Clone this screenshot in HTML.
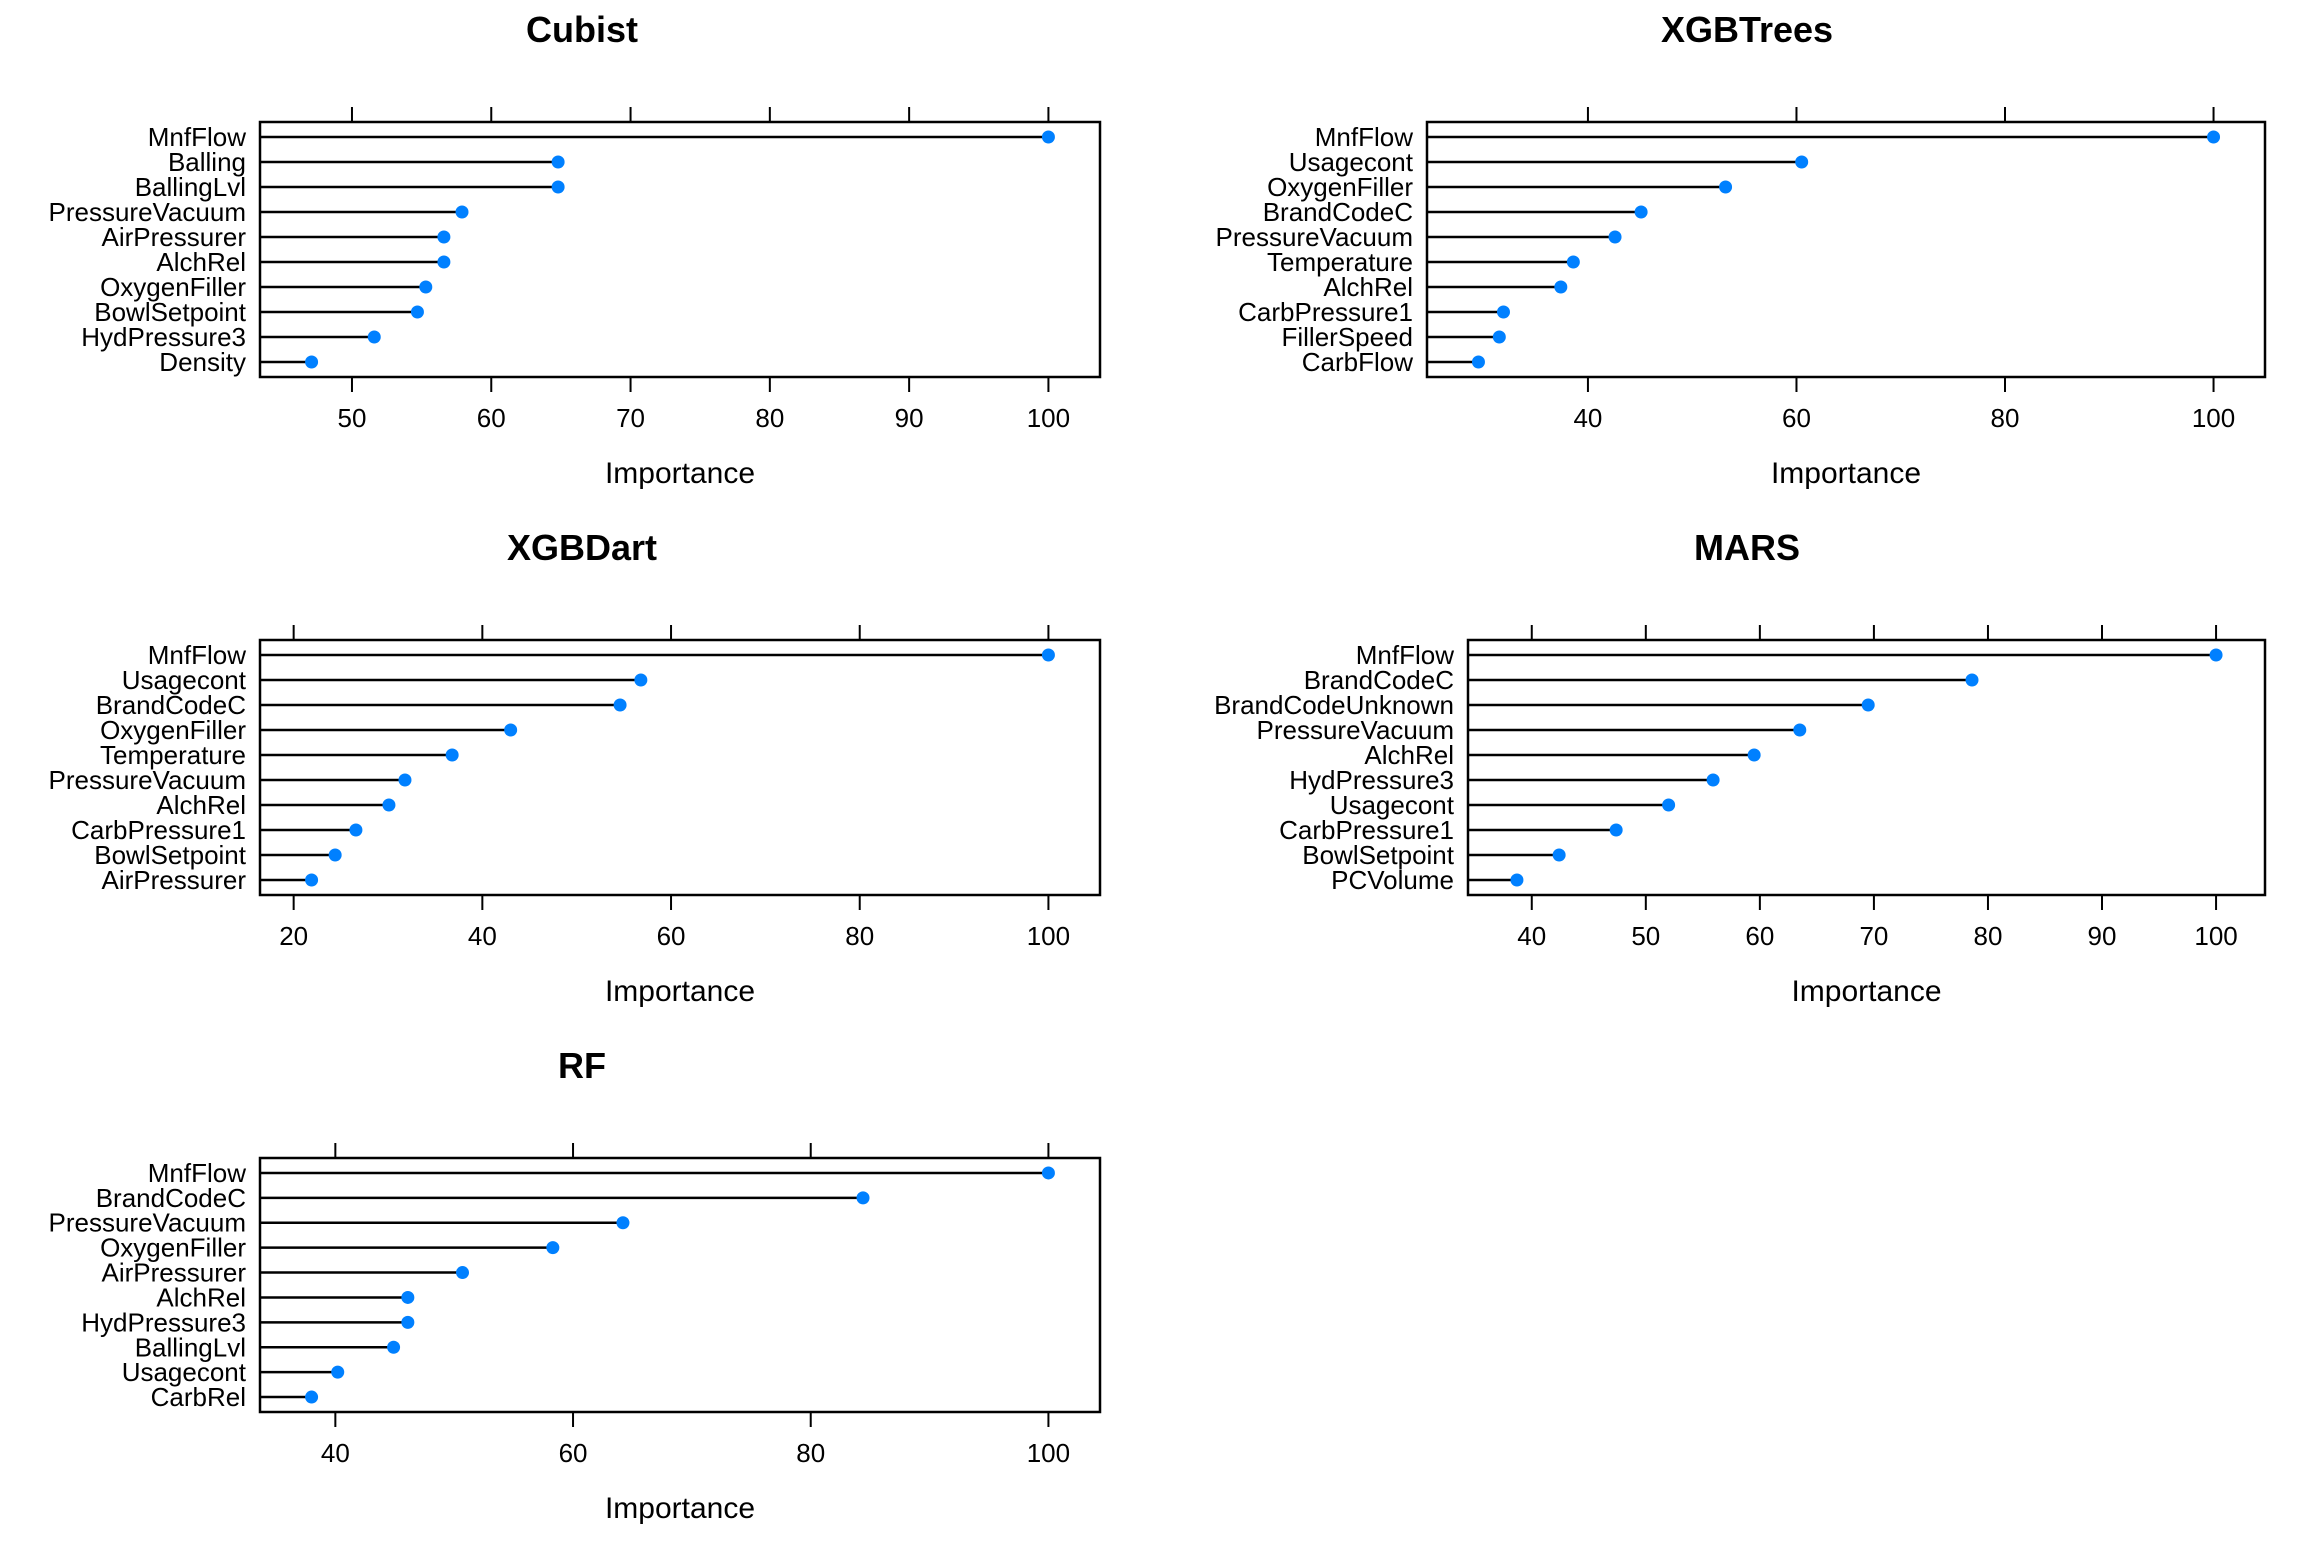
<!DOCTYPE html>
<html><head><meta charset="utf-8"><style>
html,body{margin:0;padding:0;background:#fff}
svg text{font-family:"Liberation Sans",Arial,sans-serif}
</style></head><body>
<svg id="chart" width="2304" height="1536" viewBox="0 0 2304 1536" xmlns="http://www.w3.org/2000/svg"></svg>
<script>
const cubistLabels=["MnfFlow","Balling","BallingLvl","PressureVacuum","AirPressurer","AlchRel","OxygenFiller","BowlSetpoint","HydPressure3","Density"];
const cubistValues=[100,64.8,64.8,57.9,56.6,56.6,55.3,54.7,51.6,47.1];
const cubistTicks=[50,60,70,80,90,100];
const xgbtLabels=["MnfFlow","Usagecont","OxygenFiller","BrandCodeC","PressureVacuum","Temperature","AlchRel","CarbPressure1","FillerSpeed","CarbFlow"];
const xgbtValues=[100,60.5,53.2,45.1,42.6,38.6,37.4,31.9,31.5,29.5];
const xgbtTicks=[40,60,80,100];
const xgbdLabels=["MnfFlow","Usagecont","BrandCodeC","OxygenFiller","Temperature","PressureVacuum","AlchRel","CarbPressure1","BowlSetpoint","AirPressurer"];
const xgbdValues=[100,56.8,54.6,43.0,36.8,31.8,30.1,26.6,24.4,21.9];
const xgbdTicks=[20,40,60,80,100];
const marsLabels=["MnfFlow","BrandCodeC","BrandCodeUnknown","PressureVacuum","AlchRel","HydPressure3","Usagecont","CarbPressure1","BowlSetpoint","PCVolume"];
const marsValues=[100,78.6,69.5,63.5,59.5,55.9,52.0,47.4,42.4,38.7];
const marsTicks=[40,50,60,70,80,90,100];
const rfLabels=["MnfFlow","BrandCodeC","PressureVacuum","OxygenFiller","AirPressurer","AlchRel","HydPressure3","BallingLvl","Usagecont","CarbRel"];
const rfValues=[100,84.4,64.2,58.3,50.7,46.1,46.1,44.9,40.2,38.0];
const rfTicks=[40,60,80,100];

const NS="http://www.w3.org/2000/svg";
const svg=document.getElementById('chart');
function mk(tag,attrs,parent){const e=document.createElementNS(NS,tag);for(const k in attrs)e.setAttribute(k,attrs[k]);parent.appendChild(e);return e;}

function panel(key,title,labels,values,ticks,x0,x1,y0,y1,titleX){
  const g=mk('g',{},svg);
  
  
  const mn=Math.min(...values),mx=Math.max(...values),pad=(mx-mn)*0.07;
  const d0=mn-pad,d1=mx+pad;
  const sx=v=>x0+(v-d0)/(d1-d0)*(x1-x0);
  const n=labels.length;
  const sy=i=>y0+(i+0.6)/(n+0.2)*(y1-y0);
  const t=mk('text',{x:titleX,y:y0-80,'text-anchor':'middle','font-size':36,'font-weight':'bold'},g);
  t.textContent=title;
  
  
  labels.forEach((lab,i)=>{
    const y=sy(i);
    const l=mk('line',{x1:x0,x2:sx(values[i]),y1:y,y2:y,stroke:'#000','stroke-width':2.5},g);
    
    
    const c=mk('circle',{cx:sx(values[i]),cy:y,r:6.5,fill:'#0080ff'},g);
    
    
    const tx=mk('text',{x:x0-14,y:y+9,'text-anchor':'end','font-size':26},g);
    tx.textContent=lab;
    
    
  });
  ticks.forEach(v=>{
    const x=sx(v);
    const a=mk('line',{x1:x,x2:x,y1:y0-15,y2:y0,stroke:'#000','stroke-width':2},g);
    
    
    const b=mk('line',{x1:x,x2:x,y1:y1,y2:y1+15,stroke:'#000','stroke-width':2},g);
    
    
    const tl=mk('text',{x:x,y:y1+50,'text-anchor':'middle','font-size':26},g);
    tl.textContent=v;
    
    
  });
  const r=mk('rect',{x:x0,y:y0,width:x1-x0,height:y1-y0,fill:'none',stroke:'#000','stroke-width':2.5},g);
  
  
  const xl=mk('text',{x:(x0+x1)/2,y:y1+106,'text-anchor':'middle','font-size':30},g);
  xl.textContent='Importance';
  
  
}
panel('cubist','Cubist',cubistLabels,cubistValues,cubistTicks,260,1100,122,377,582);
panel('xgbtrees','XGBTrees',xgbtLabels,xgbtValues,xgbtTicks,1427,2265,122,377,1747);
panel('xgbdart','XGBDart',xgbdLabels,xgbdValues,xgbdTicks,260,1100,640,895,582);
panel('mars','MARS',marsLabels,marsValues,marsTicks,1468,2265,640,895,1747);
panel('rf','RF',rfLabels,rfValues,rfTicks,260,1100,1158,1412,582);
</script>
</body></html>
